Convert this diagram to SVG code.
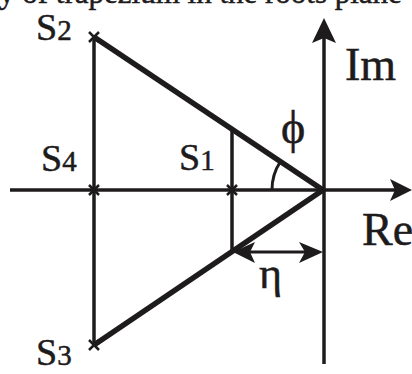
<svg xmlns="http://www.w3.org/2000/svg" width="412" height="374" viewBox="0 0 412 374">
<defs>
<style>
.ln{stroke:#1e1b1c;fill:none;stroke-linecap:butt}
.ax{stroke-width:3.5}
.th{stroke-width:5.5}
.md{stroke-width:3.5}
.hd{fill:#1e1b1c;stroke:none}
.t{font-family:"Liberation Serif","Times New Roman",serif;fill:#1e1b1c;stroke:#1e1b1c;stroke-width:0.5}
.s{font-size:38px}
.d{font-size:29px}
</style>
<path id="cross" d="M-5,-5 L5,5 M-5,5 L5,-5" stroke="#1e1b1c" stroke-width="2.5"/>
</defs>
<rect width="412" height="374" fill="#fff"/>
<text class="t" x="-1" y="3" font-size="31">y of trapezium in the roots plane</text>
<g id="connectors">
<line id="re-axis" class="ln ax" x1="10" y1="190" x2="398" y2="190"/>
<path class="hd" d="M412,190 L390,179 L395,190 L390,201 Z"/>
<line id="im-axis" class="ln ax" x1="324" y1="364" x2="324" y2="36"/>
<path class="hd" d="M324,18 L312,43 L324,38 L336,43 Z"/>
<line id="s2s3" class="ln md" x1="94" y1="37" x2="94" y2="345"/>
<line id="upper" class="ln th" x1="94" y1="37" x2="323" y2="190"/>
<line id="lower" class="ln th" x1="94" y1="345" x2="323" y2="190"/>
<line id="s1v" class="ln md" x1="232" y1="129" x2="232" y2="252"/>
<path id="phi-arc" class="ln" stroke-width="3" d="M272,190 A51,51 0 0 1 280.5,161.5"/>
<line id="eta" class="ln" stroke-width="3" x1="245" y1="252" x2="310" y2="252"/>
<path class="hd" d="M233,252 L255,242 L250,252 L255,263 Z"/>
<path class="hd" d="M323,252 L299,242 L305,252 L299,263 Z"/>
</g>
<g id="S2"><use href="#cross" x="94" y="37"/><text class="t s" x="36" y="40">S<tspan class="d">2</tspan></text></g>
<g id="S3"><use href="#cross" x="94" y="345"/><text class="t s" x="36" y="365">S<tspan class="d">3</tspan></text></g>
<g id="S4"><use href="#cross" x="94" y="190"/><text class="t s" x="41" y="171">S<tspan class="d">4</tspan></text></g>
<g id="S1"><use href="#cross" x="232" y="190"/><text class="t s" x="179" y="170">S<tspan class="d">1</tspan></text></g>
<g id="labels">
<text class="t" x="345" y="80" font-size="46">Im</text>
<text class="t" x="362" y="245" font-size="46">Re</text>
<text class="t" x="281" y="143" font-size="46">ϕ</text>
<text class="t" x="259" y="288" font-size="44">η</text>
</g>
</svg>
